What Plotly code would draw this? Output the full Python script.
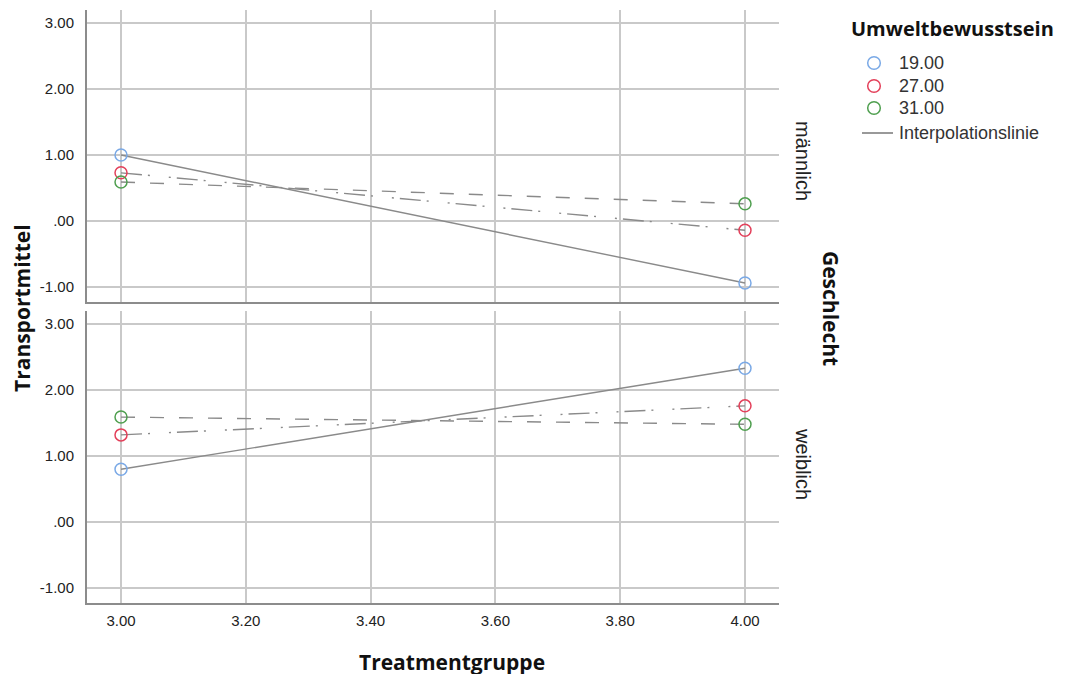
import plotly.graph_objects as go

# ---- data ----
treatment = [3.0, 4.0]
levels = ["19.00", "27.00", "31.00"]
maennlich = {"19.00": [1.00, -0.94], "27.00": [0.73, -0.14], "31.00": [0.59, 0.26]}
weiblich = {"19.00": [0.80, 2.33], "27.00": [1.32, 1.76], "31.00": [1.59, 1.48]}
x_ticks = [3.0, 3.2, 3.4, 3.6, 3.8, 4.0]
x_ticklabels = ["3.00", "3.20", "3.40", "3.60", "3.80", "4.00"]
y_ticks = [-1, 0, 1, 2, 3]
y_ticklabels = ["-1.00", ".00", "1.00", "2.00", "3.00"]

marker_colors = {"19.00": "#7aa9e6", "27.00": "#e3405a", "31.00": "#4f9f4f"}
dashes = {"19.00": "solid", "27.00": "21px,6px,2px,19px,2px,6px", "31.00": "14px,15px"}
line_color = "#8a8a8a"

fig = go.Figure()
for panel, yref in [(maennlich, "y"), (weiblich, "y2")]:
    for lv in levels:
        fig.add_trace(go.Scatter(
            x=treatment, y=panel[lv], mode="lines+markers",
            xaxis="x" if yref == "y" else "x2", yaxis=yref,
            line=dict(color=line_color, width=1.4, dash=dashes[lv]),
            marker=dict(symbol="circle-open", size=12, color=marker_colors[lv],
                        line=dict(width=1.5, color=marker_colors[lv])),
            showlegend=False, hoverinfo="skip"))

font_tick = dict(family="Liberation Sans, Arial", size=15, color="#222")
grid = "#c9c9c9"
axis_line = "#8c8c8c"
xr = [2.9455, 4.0545]
yr = [-1.227, 3.197]
H_top = [0.5076, 1.0]
H_bot = [0.0, 0.4924]

common_x = dict(range=xr, tickvals=x_ticks, showgrid=True, gridcolor=grid, gridwidth=1.5,
                showline=True, linecolor=axis_line, linewidth=2, zeroline=False,
                ticks="", tickfont=font_tick, ticklabelstandoff=3)
common_y = dict(range=yr, tickvals=y_ticks, ticktext=y_ticklabels, showgrid=True,
                gridcolor=grid, gridwidth=1.5, showline=True, linecolor=axis_line,
                linewidth=2, zeroline=False, ticks="", tickfont=font_tick, ticklabelstandoff=8)

# page is drawn with an 8px body offset; margins compensate so the plot area
# lands at x 87..779, y 10..603 in the screenshot
fig.update_layout(
    width=1067, height=674,
    margin=dict(l=79, r=296, t=2, b=79),
    paper_bgcolor="white", plot_bgcolor="white",
    showlegend=False,
    xaxis=dict(**common_x, anchor="y", showticklabels=False),
    yaxis=dict(**common_y, domain=H_top, anchor="x"),
    xaxis2=dict(**common_x, anchor="y2", ticktext=x_ticklabels),
    yaxis2=dict(**common_y, domain=H_bot, anchor="x2"),
)


def px_x(p):
    return (p - 87) / 692


def px_y(p):
    return (603 - p) / 593


title_font = dict(family="Open Sans, Noto Sans", size=21, color="#111")
lab_font = dict(family="Liberation Sans, Arial", size=20, color="#222")
ann = [
    dict(text="<b>Transportmittel</b>", x=px_x(22), y=px_y(308), textangle=-90, font=title_font),
    dict(text="<b>Treatmentgruppe</b>", x=px_x(452), y=px_y(662), font=title_font),
    dict(text="<b>Geschlecht</b>", x=px_x(831), y=px_y(308), textangle=90, font=title_font),
    dict(text="männlich", x=px_x(803), y=px_y(161), textangle=90, font=lab_font),
    dict(text="weiblich", x=px_x(803), y=px_y(464), textangle=90, font=lab_font),
]
for a in ann:
    a.update(xref="paper", yref="paper", showarrow=False, xanchor="center", yanchor="middle")
    fig.add_annotation(**a)

# legend (drawn manually)
fig.add_annotation(text="<b>Umweltbewusstsein</b>", x=px_x(952), y=px_y(28), xref="paper", yref="paper",
                   showarrow=False, xanchor="center", yanchor="middle",
                   font=dict(family="Open Sans, Noto Sans", size=20, color="#111"))
leg_y = [63, 86, 108]
for lv, yy in zip(levels, leg_y):
    fig.add_shape(type="circle", xref="paper", yref="paper", xsizemode="pixel", ysizemode="pixel",
                  xanchor=px_x(874), yanchor=px_y(yy), x0=-6.3, x1=6.3, y0=-6.3, y1=6.3,
                  line=dict(color=marker_colors[lv], width=1.5), fillcolor="rgba(0,0,0,0)")
    fig.add_annotation(text=lv, x=px_x(897), y=px_y(yy), xref="paper", yref="paper", showarrow=False,
                       xanchor="left", yanchor="middle",
                       font=dict(family="Liberation Sans, Arial", size=18, color="#333"))
fig.add_shape(type="line", xref="paper", yref="paper", x0=px_x(862), x1=px_x(893),
              y0=px_y(133), y1=px_y(133), line=dict(color="#999", width=2))
fig.add_annotation(text="Interpolationslinie", x=px_x(897), y=px_y(133), xref="paper", yref="paper",
                   showarrow=False, xanchor="left", yanchor="middle",
                   font=dict(family="Liberation Sans, Arial", size=18, color="#333"))

fig.write_html("out.html")
